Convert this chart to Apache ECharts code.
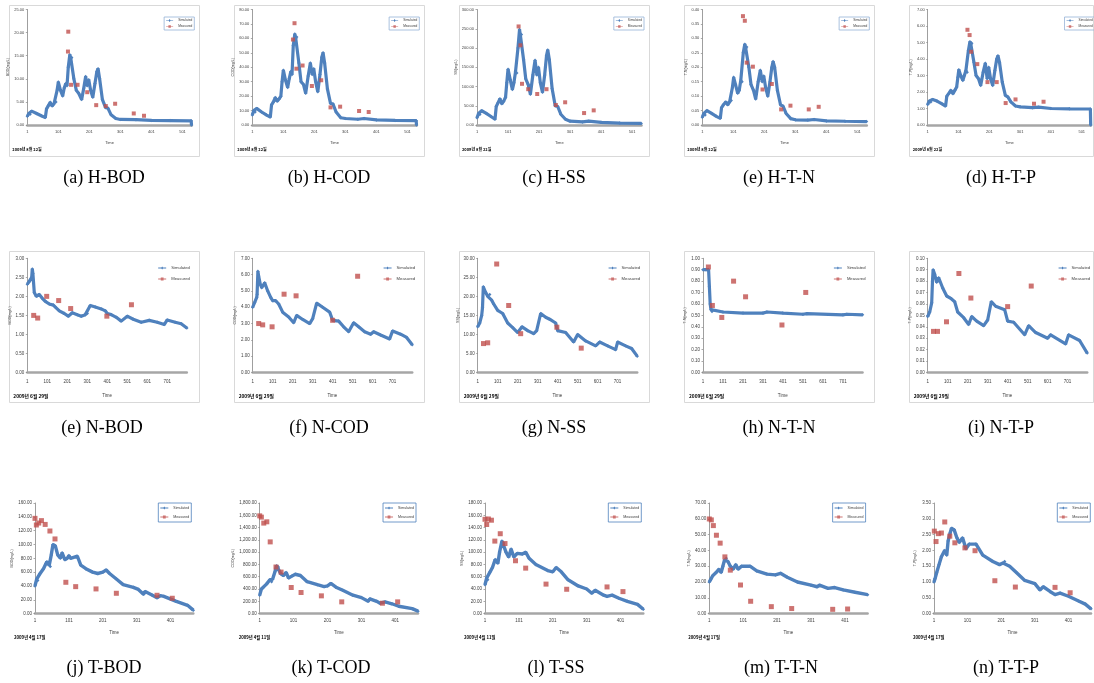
<!DOCTYPE html>
<html><head><meta charset="utf-8">
<script src="https://cdn.jsdelivr.net/npm/echarts@6/dist/echarts.min.js"></script>
<style>html,body{margin:0;padding:0;background:#fff}#c{width:1094px;height:683px}</style>
</head><body><div id="c"></div>
<script>
// ---------- DATA ----------
const captions = ['(a) H-BOD','(b) H-COD','(c) H-SS','(e) H-T-N','(d) H-T-P',
  '(e) N-BOD','(f) N-COD','(g) N-SS','(h) N-T-N','(i) N-T-P',
  '(j) T-BOD','(k) T-COD','(l) T-SS','(m) T-T-N','(n) T-T-P'];
const yNames = ['BOD(mg/L)','COD(mg/L)','SS(mg/L)','T-N(mg/L)','T-P(mg/L)'];
const yMaxes = [25,80,300,0.40,7, 3,7,30,1.0,0.10, 160,1800,180,70,3.5];
const yIntervals = [5,10,50,0.05,1, 0.5,1,5,0.1,0.01, 20,200,20,10,0.5];
const dates = ['2009년 8월 22일','2009년 8월 22일','2009년 8월 22일','2009년 8월 22일','2009년 8월 22일',
  '2009년 6월 29일','2009년 6월 29일','2009년 6월 29일','2009년 6월 29일','2009년 6월 29일',
  '2009년 4월 17일','2009년 4월 11일','2009년 4월 11일','2009년 4월 17일','2009년 4월 17일'];
const xMaxes = [530, 798, 467]; // number of time steps per row
const legendNames = ['Simulated','Measured'];

const hBodSim = [[0,1.9],[5,2.5],[9,2.3],[14,3.0],[30,2.5],[45,2.0],[58,1.6],[62,3.5],[68,4.2],[74,4.9],[80,4.1],[86,4.6],[92,5.0],[96,7.5],[100,9.3],[107,7.5],[114,6.3],[119,8.0],[124,9.0],[128,8.5],[132,12.5],[137,15.2],[140,14.5],[143,14.6],[150,10.0],[158,7.5],[166,6.8],[175,5.5],[182,8.0],[188,10.5],[193,8.5],[198,9.8],[204,7.5],[211,6.0],[218,9.0],[224,11.5],[228,12.2],[233,10.0],[242,5.5],[252,3.8],[260,3.6],[270,2.2],[285,1.4],[300,1.2],[350,1.15],[400,1.0],[460,0.95],[528,0.9],[529,0]];
const hBodMeas = [[132,20.2],[131,15.9],[141,8.7],[162,8.7],[193,7.1],[222,4.3],[253,4.1],[283,4.6],[343,2.5],[376,2.0]];
const hCodSim = [[0,7],[5,10],[9,9],[14,11.5],[30,9],[45,7],[58,5.5],[62,14],[68,16],[74,19],[80,16.5],[86,18],[92,20],[96,30],[100,38],[107,31],[114,26],[119,32],[124,37],[128,35],[132,55],[137,63],[140,60],[143,61],[150,43],[157,30],[165,28],[172,22],[180,34],[187,43],[193,35],[198,39],[204,30],[211,23],[218,35],[224,47],[228,50],[233,43],[242,25],[252,15],[260,14.5],[270,9],[285,5],[300,4.5],[340,4.0],[360,4.5],[400,3.5],[460,3.2],[528,3.0],[529,0]];
const hCodMeas = [[131,59.2],[136,70.5],[142,39],[162,41.2],[192,27],[222,31],[252,12.2],[283,12.7],[344,9.7],[375,9]];
const hSsSim = [[0,19],[5,30],[9,27],[15,37],[30,30],[45,22],[58,15],[62,48],[68,58],[74,68],[80,55],[86,62],[92,72],[96,110],[100,145],[107,118],[114,92],[119,110],[124,138],[128,135],[132,200],[137,248],[140,232],[143,235],[150,170],[157,120],[165,105],[172,80],[180,130],[187,168],[193,130],[198,150],[204,110],[211,85],[218,130],[224,180],[228,195],[233,170],[242,95],[252,50],[260,48],[270,28],[285,15],[300,10],[340,8],[360,10],[400,7],[460,5],[529,4]];
const hSsMeas = [[134,256],[140,207],[145,107],[165,93],[194,80.5],[224,93],[254,52],[284,59],[345,31],[376,38]];
const hTnSim = [[0,0.027],[5,0.04],[9,0.035],[15,0.05],[30,0.04],[45,0.03],[58,0.023],[62,0.06],[68,0.07],[76,0.08],[82,0.07],[88,0.08],[93,0.085],[97,0.13],[101,0.165],[107,0.14],[114,0.11],[119,0.12],[124,0.155],[128,0.15],[132,0.25],[137,0.28],[140,0.265],[143,0.27],[150,0.2],[157,0.14],[165,0.12],[172,0.09],[180,0.15],[187,0.19],[193,0.15],[198,0.17],[204,0.13],[211,0.10],[218,0.15],[224,0.20],[228,0.22],[233,0.2],[242,0.12],[252,0.07],[260,0.065],[270,0.04],[285,0.022],[300,0.018],[340,0.017],[360,0.019],[400,0.014],[460,0.013],[529,0.012]];
const hTnMeas = [[131,0.377],[137,0.361],[143,0.216],[163,0.202],[194,0.123],[224,0.142],[254,0.054],[284,0.067],[343,0.054],[375,0.063]];
const hTpSim = [[0,1.25],[5,1.45],[10,1.4],[16,1.55],[30,1.45],[45,1.3],[58,1.15],[62,1.75],[68,1.9],[75,2.1],[82,1.9],[88,2.1],[94,2.3],[98,2.9],[101,3.35],[107,3.0],[114,2.7],[119,3.0],[124,3.3],[128,3.2],[132,4.5],[137,5.05],[140,4.9],[143,4.95],[150,3.8],[157,3.0],[165,2.8],[172,2.4],[180,3.2],[187,3.75],[193,2.8],[198,3.5],[204,2.8],[211,2.4],[218,3.3],[224,4.0],[228,4.2],[233,3.8],[242,2.6],[252,1.8],[260,1.7],[270,1.4],[285,1.15],[300,1.1],[340,1.05],[360,1.08],[400,1.0],[460,0.98],[528,0.97],[529,0]];
const hTpMeas = [[129,5.77],[136,5.45],[141,4.44],[161,3.69],[194,2.6],[224,2.6],[253,1.33],[285,1.55],[345,1.29],[376,1.41]];

const nBodSim = [[0,2.32],[8,2.38],[15,2.42],[22,2.5],[25,2.72],[28,2.6],[35,2.1],[45,2.0],[60,2.05],[75,1.95],[90,1.87],[110,1.8],[130,1.77],[140,1.72],[160,1.62],[185,1.55],[205,1.48],[225,1.57],[250,1.52],[270,1.48],[290,1.52],[300,1.55],[315,1.76],[340,1.72],[370,1.67],[390,1.62],[400,1.55],[420,1.52],[445,1.45],[470,1.35],[500,1.48],[530,1.4],[570,1.32],[610,1.37],[650,1.32],[685,1.26],[700,1.38],[740,1.32],[770,1.28],[798,1.17]];
const nBodMeas = [[32,1.5],[52,1.43],[97,2.0],[157,1.89],[217,1.68],[398,1.48],[521,1.78]];
const nCodSim = [[0,4.0],[10,4.3],[20,4.6],[22,4.8],[26,6.2],[30,5.9],[38,5.4],[45,5.2],[60,5.5],[75,5.0],[90,4.6],[100,4.4],[115,4.4],[130,4.2],[150,3.7],[180,3.4],[205,3.05],[220,3.5],[250,3.25],[285,3.0],[300,3.3],[320,4.25],[350,4.0],[385,3.7],[400,3.2],[430,3.15],[455,2.8],[480,2.5],[505,3.05],[530,2.8],[560,2.5],[590,2.35],[605,2.5],[640,2.3],[685,2.05],[700,2.55],[740,2.35],[770,2.15],[798,1.7]];
const nCodMeas = [[30,3.0],[50,2.92],[97,2.8],[157,4.8],[217,4.7],[400,3.2],[525,5.9]];
const nSsSim = [[0,12],[10,13],[20,15],[24,17],[28,22.5],[40,21],[50,20],[60,20.5],[70,19],[80,18],[100,16.3],[125,15.5],[150,13],[175,11.8],[200,10.5],[222,12],[250,11],[280,10.2],[295,11],[315,15.5],[340,14.5],[360,14],[390,13],[400,11],[440,10.5],[480,8],[500,10],[540,8.3],[590,7],[610,8],[650,7],[690,6],[700,8],[740,7],[770,6.3],[798,4.3]];
const nSsMeas = [[29,7.6],[50,7.8],[95,28.5],[155,17.6],[215,10.2],[396,11.9],[518,6.4]];
const nTnSim = [[0,0.9],[15,0.9],[28,0.9],[32,0.75],[36,0.6],[40,0.55],[45,0.535],[100,0.53],[200,0.52],[300,0.52],[320,0.53],[400,0.52],[500,0.51],[520,0.515],[700,0.505],[720,0.51],[798,0.505]];
const nTnMeas = [[27,0.924],[47,0.587],[94,0.482],[153,0.80],[213,0.663],[395,0.416],[514,0.701]];
const nTpSim = [[0,0.049],[10,0.053],[20,0.061],[24,0.08],[27,0.09],[35,0.086],[45,0.079],[55,0.083],[75,0.074],[95,0.067],[115,0.065],[135,0.062],[150,0.053],[180,0.048],[205,0.042],[220,0.049],[245,0.045],[280,0.041],[300,0.046],[318,0.062],[340,0.058],[385,0.055],[400,0.045],[430,0.044],[485,0.033],[505,0.041],[540,0.035],[600,0.030],[615,0.033],[690,0.025],[705,0.033],[760,0.028],[798,0.017]];
const nTpMeas = [[29,0.036],[49,0.036],[94,0.0444],[156,0.0867],[216,0.0652],[400,0.0577],[518,0.0757]];

const tBodSim = [[0,40],[5,50],[8,48],[15,58],[25,65],[32,72],[35,75],[42,70],[45,68],[48,85],[53,100],[60,98],[67,85],[75,80],[80,88],[88,78],[95,80],[100,84],[105,80],[125,83],[135,70],[150,65],[170,60],[185,58],[200,60],[210,63],[220,58],[240,50],[260,42],[290,38],[305,35],[320,28],[325,32],[345,27],[360,23],[370,26],[380,25],[415,18],[450,12],[467,5]];
const tBodMeas = [[0,137.8],[4,128.2],[11,131],[19,134.5],[30,129],[44,119.5],[59,108],[91,45.3],[120,39],[180,35.7],[240,29.4],[360,26.5],[405,22.2]];
const tCodSim = [[0,300],[5,400],[10,420],[20,480],[30,550],[35,520],[38,560],[45,680],[50,780],[55,760],[62,650],[70,620],[78,670],[85,580],[95,610],[105,640],[120,620],[140,520],[170,470],[190,440],[200,450],[210,490],[225,430],[245,380],[275,300],[300,260],[320,200],[325,240],[345,200],[355,170],[370,190],[390,160],[410,120],[450,80],[467,40]];
const tCodMeas = [[0,1591],[5,1570],[12,1473],[21,1494],[31,1167],[48,758],[63,676],[93,425],[122,343],[182,289],[242,191],[362,169],[407,191]];
const tSsSim = [[0,47],[5,58],[8,55],[15,68],[22,75],[30,88],[38,82],[43,100],[50,118],[55,115],[62,100],[70,92],[77,105],[85,92],[95,98],[110,97],[120,100],[130,90],[150,80],[185,70],[200,68],[210,75],[225,68],[245,55],[275,45],[300,40],[315,33],[325,38],[350,30],[360,28],[375,30],[395,25],[420,20],[450,15],[467,7]];
const tSsMeas = [[0,153.5],[5,145],[10,154],[19,152],[29,118],[45,130],[59,114],[90,86],[120,74],[180,48],[241,39.6],[360,43.4],[407,35.8]];
const tTnSim = [[0,20],[5,22],[10,24],[20,26],[28,28],[35,26],[40,30],[45,34],[50,35],[55,33],[62,30],[70,28],[78,31],[85,28],[95,30],[120,30],[140,27],[170,25],[195,24.5],[210,25.5],[230,23],[260,20],[300,18],[318,17],[325,18],[350,16],[370,16.5],[395,15],[430,13.5],[467,12]];
const tTnMeas = [[0,59.9],[6,59.3],[12,55.7],[21,49.6],[32,44.6],[46,35.9],[62,27.5],[92,18.1],[122,7.8],[183,4.4],[243,3.2],[364,2.7],[408,2.9]];
const tTpSim = [[0,1.0],[3,1.1],[8,1.3],[15,1.55],[22,1.8],[32,2.0],[38,1.85],[42,2.3],[48,2.55],[52,2.7],[60,2.65],[68,2.4],[75,2.25],[85,2.4],[95,2.05],[105,2.2],[125,2.2],[145,1.85],[175,1.65],[195,1.55],[205,1.6],[210,1.65],[225,1.5],[245,1.3],[270,1.05],[300,0.95],[315,0.75],[325,0.85],[345,0.7],[360,0.6],[375,0.65],[400,0.55],[430,0.4],[450,0.3],[467,0.15]];
const tTpMeas = [[1,2.61],[6,2.28],[13,2.53],[22,2.55],[32,2.9],[47,2.45],[62,2.24],[92,2.08],[122,1.99],[181,1.04],[242,0.84],[360,0.83],[405,0.66]];

const simSeries = [hBodSim,hCodSim,hSsSim,hTnSim,hTpSim, nBodSim,nCodSim,nSsSim,nTnSim,nTpSim, tBodSim,tCodSim,tSsSim,tTnSim,tTpSim];
const measSeries = [hBodMeas,hCodMeas,hSsMeas,hTnMeas,hTpMeas, nBodMeas,nCodMeas,nSsMeas,nTnMeas,nTpMeas, tBodMeas,tCodMeas,tSsMeas,tTnMeas,tTpMeas];

// ---------- LAYOUT ----------
const W = 1094;
const rows = [
  {lefts:[27.3,252.3,477,702.3,927.7], width:164.5, top:9.5, height:115.5,
   box:{top:5, bottom:156, lefts:[9,234,459,684,909], rights:[199,424,649,874,1093]},
   legend:{off:2.5, top:17, fs:3.2, iw:7, ih:3.5, gap:3, pad:[2,2,2,2], border:'#95b3d7'},
   fs:4, xMargin:5, xNameGap:16, yNameGap:14, dateDx:-15, dateY:149, dateFs:4, capY:178,
   capX:[104,329,554,779,1001], ms:4, lw:3.2},
  {lefts:[27.3,252.7,477.7,703,927.7], width:159.5, top:258.3, height:114.2,
   box:{top:251, bottom:402, lefts:[9,234,459,684,909], rights:[199,424,649,874,1093]},
   legend:{off:3, top:266, fs:4.2, iw:8, ih:4, gap:7, pad:[0,0,0,0], border:null},
   fs:4.5, xMargin:7, xNameGap:21, yNameGap:14.5, dateDx:-14, dateY:396, dateFs:4.8, capY:428,
   capX:[102,329,554,779,1001], ms:5, lw:3.2},
  {lefts:[35,259.7,485,709.3,934], width:158.3, top:503, height:110.6,
   box:null,
   legend:{off:-2, top:503, fs:3.6, iw:8, ih:4, gap:5, pad:[3,2,3,2], border:'#4f81bd'},
   fs:4.5, xMargin:5, xNameGap:17, yNameGap:17, dateDx:-21, dateY:637, dateFs:4.3, capY:668,
   capX:[104,331,556,781,1006], ms:5, lw:3.4}
];

const simIcon = 'path://M0,4L20,4L20,6L0,6Z M10,1L13,5L10,9L7,5Z';
const measIcon = 'path://M0,4L20,4L20,6L0,6Z M6.5,1.5L13.5,1.5L13.5,8.5L6.5,8.5Z';

const grids=[], xAxes=[], yAxes=[], series=[], legends=[], graphics=[];
function fmtY(v, i){
  if (i === 11) return v.toLocaleString('en-US',{minimumFractionDigits:2, maximumFractionDigits:2});
  return v.toFixed(2);
}
for (let i=0;i<15;i++){
  const r = Math.floor(i/5), c = i%5, R = rows[r];
  const left = R.lefts[c];
  grids.push({left:left, top:R.top, width:R.width, height:R.height, containLabel:false});
  xAxes.push({gridIndex:i, type:'value', min:0, max:xMaxes[r], interval:100,
    name:'Time', nameLocation:'middle', nameGap:R.xNameGap,
    nameTextStyle:{fontSize:R.fs, color:'#404040', fontFamily:'Liberation Sans'},
    axisLine:{show:true, onZero:false, lineStyle:{color:'#a6a6a6', width:2.5}},
    axisTick:{show:false}, splitLine:{show:false},
    axisLabel:{fontSize:R.fs, color:'#404040', margin:R.xMargin, fontFamily:'Liberation Sans',
      formatter:(v)=> (Math.round(v)%100===0 ? String(Math.round(v)+1) : '')}});
  const ii = i;
  yAxes.push({gridIndex:i, type:'value', min:0, max:yMaxes[i], interval:yIntervals[i],
    name:yNames[c], nameLocation:'middle', nameGap:R.yNameGap, nameRotate:90,
    nameTextStyle:{fontSize:3.6, color:'#404040', fontFamily:'Liberation Sans'},
    axisLine:{show:true, lineStyle:{color:'#868686', width:0.8}},
    axisTick:{show:true, length:1.5, lineStyle:{color:'#868686', width:0.7}},
    splitLine:{show:false},
    axisLabel:{fontSize:R.fs, color:'#404040', margin:3, fontFamily:'Liberation Sans',
      formatter:(v)=>fmtY(v, ii)}});
  series.push({type:'line', name:legendNames[0], xAxisIndex:i, yAxisIndex:i, data:simSeries[i],
    symbol:'diamond', symbolSize:3.5, showSymbol:true, animation:false, z:2,
    lineStyle:{color:'#4F81BD', width:R.lw}, itemStyle:{color:'#4F81BD'}});
  series.push({type:'scatter', name:legendNames[1], xAxisIndex:i, yAxisIndex:i, data:measSeries[i],
    symbol:'rect', symbolSize:R.ms, animation:false, z:3, itemStyle:{color:'#C0504D'}});
  const L = R.legend;
  legends.push({data:[{name:legendNames[0], icon:simIcon},{name:legendNames[1], icon:measIcon}],
    orient:'vertical', right:W-(left+R.width+L.off), top:L.top,
    itemWidth:L.iw, itemHeight:L.ih, itemGap:L.gap, itemTextGap:1, padding:L.pad,
    selectedMode:false, borderColor:L.border||'transparent', borderWidth:L.border?0.8:0,
    textStyle:{fontSize:L.fs, color:'#404040', fontFamily:'Liberation Sans'}});
  if (R.box){
    graphics.push({type:'rect', silent:true, z:-1,
      shape:{x:R.box.lefts[c]+0.5, y:R.box.top+0.5, width:R.box.rights[c]-R.box.lefts[c], height:R.box.bottom-R.box.top},
      style:{fill:'none', stroke:'#d9d9d9', lineWidth:1}});
  }
  graphics.push({type:'text', silent:true, x:left+R.dateDx, y:R.dateY,
    style:{text:dates[i], fill:'#000', font:'bold '+R.dateFs+'px "Noto Sans CJK KR"', align:'left', verticalAlign:'middle'}});
  graphics.push({type:'text', silent:true, x:R.capX[c], y:R.capY,
    style:{text:captions[i], fill:'#000', font:'18px "Liberation Serif"', align:'center', verticalAlign:'middle'}});
}

const chart = echarts.init(document.getElementById('c'), null, {renderer:'canvas'});
chart.setOption({
  animation:false, backgroundColor:'#fff',
  grid:grids, xAxis:xAxes, yAxis:yAxes, series:series, legend:legends, graphic:graphics
});
</script></body></html>
